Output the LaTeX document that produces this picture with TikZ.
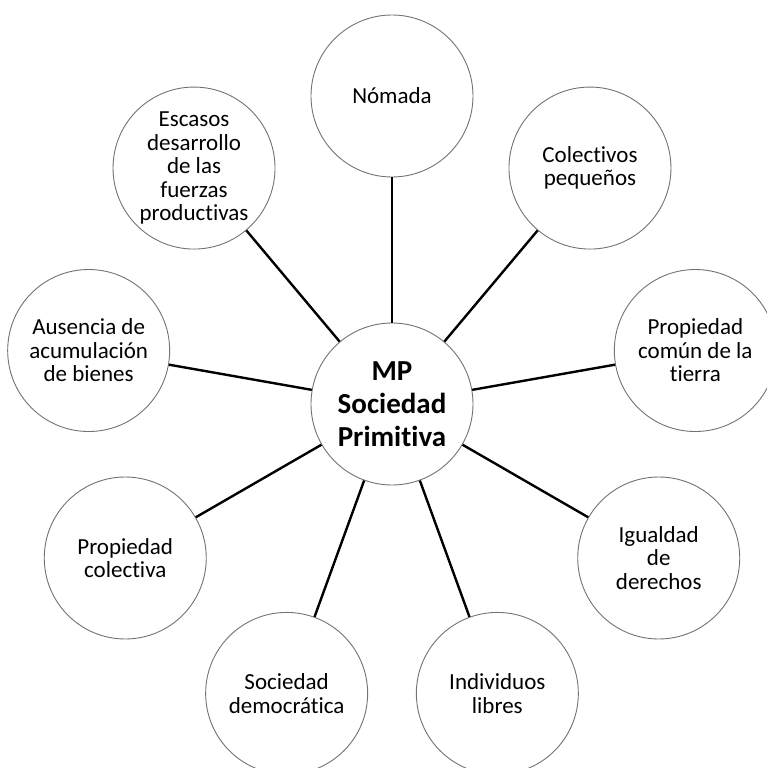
\documentclass[tikz,border=0pt]{standalone}
\usepackage{fontspec}
\setmainfont{Carlito}[Ligatures=NoCommon]
\usepackage{tikz}
\usetikzlibrary{arrows}

\begin{document}
\begin{tikzpicture}[-,x=1pt,y=1pt,
			main node/.style={circle,draw=black!55,line width=0.9pt,fill=white,
				font=\fontsize{23}{23.5}\selectfont,align=center,
				minimum size=162pt,inner sep=0pt},
			centre node/.style={main node,
				font=\fontsize{29}{33}\selectfont\bfseries}]
			\useasboundingbox (-392,-364) rectangle (375,404);
			
			\node[centre node] (A) at (0,0) {MP\\Sociedad\\Primitiva};
			\node[main node] (B) at (90:308) {Nómada};
			\node[main node] (C) at (50:308) {Colectivos\\pequeños};
			\node[main node] (D) at (10:308) {Propiedad\\común de la\\tierra};
			\node[main node] (E) at (-30:308) {Igualdad\\de\\derechos};
			\node[main node] (F) at (-70:308) {Individuos\\libres};
			\node[main node] (G) at (-110:308) {Sociedad\\democrática};
			\node[main node] (H) at (-150:308) {Propiedad\\colectiva};
			\node[main node] (I) at (170:308) {Ausencia de\\acumulación\\de bienes};
			\node[main node] (J) at (130:308) {Escasos\\desarrollo\\de las\\fuerzas\\productivas};
			\path[-,line width=2.4pt,black]
			(A) edge (B)
			(A) edge (C)
			(A) edge (D)
			(A) edge (E)
			(A) edge (F)
			(A) edge (G)
			(A) edge (H)
			(A) edge (I)
			(A) edge (J);
		\end{tikzpicture}
\end{document}
